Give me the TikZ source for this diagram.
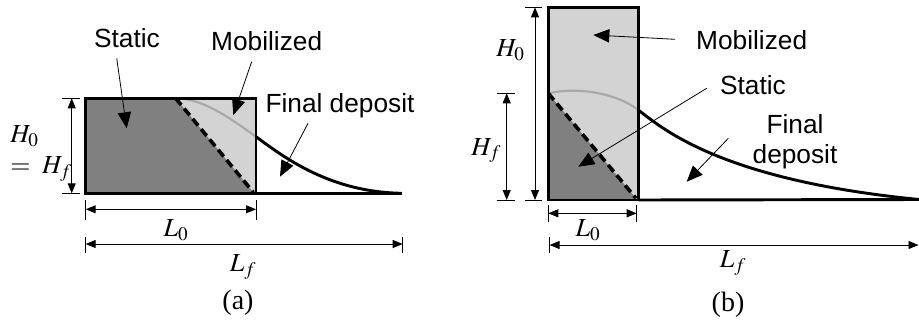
\documentclass[tikz,border=0pt]{standalone}
\usepackage{mathptmx}
\usepackage{fontspec}
\setmainfont{Liberation Serif}
\newfontfamily\lab{Liberation Sans}
\usetikzlibrary{arrows.meta}
\definecolor{lightg}{HTML}{D3D3D3}
\definecolor{darkg}{HTML}{808080}
\definecolor{curveg}{HTML}{A8A8A8}
\tikzset{
 lbl/.style={font=\lab\fontsize{19.7}{23}\selectfont, inner sep=0pt, align=center},
 mth/.style={font=\fontsize{19.5}{21}\selectfont, inner sep=0pt},
 captext/.style={font=\rmfamily\fontsize{21}{23}\selectfont, inner sep=0pt},
 outline/.style={line width=2.2pt},
 dimline/.style={line width=0.7pt, {Triangle[length=7.5pt,width=6pt]}-{Triangle[length=7.5pt,width=6pt]}},
 tickline/.style={line width=0.7pt},
 pointer/.style={line width=0.6pt, -{Triangle[length=12pt,width=10pt]}},
 slip/.style={line width=2.7pt, dash pattern=on 6.5pt off 3.5pt},
 gcurve/.style={curveg, line width=1.6pt},
 bcurve/.style={line width=2.2pt},
}
\begin{document}
\begin{tikzpicture}[x=0.75pt,y=-0.75pt]
\useasboundingbox (0,0) rectangle (919,322);
% ================= panel (a) =================
\coordinate (aTL) at (85.7,98.3);
\coordinate (aTR) at (256,98.3);
\coordinate (aBR) at (256,193.3);
\coordinate (aBL) at (85.7,193.3);
\coordinate (aS1) at (175.7,98.3);
\coordinate (aS2) at (253.3,192.3);
\coordinate (aJ) at (256,136.7);
\coordinate (aEnd) at (401.7,193.3);
\fill[lightg] (aTL) rectangle (aBR);
\fill[darkg] (aTL) -- (aS1) -- (aS2) -- (aBR) -- (aBL) -- cycle;
\draw[gcurve] (aS1) .. controls (205,98.3) and (235,122) .. (aJ);
\draw[slip] (aS1) -- (aS2);
\draw[outline] (aTL) rectangle (aBR);
\draw[bcurve] (aJ) .. controls (285,158) and (330,192) .. (aEnd);
\draw[bcurve] (aBR) -- (aEnd);
% vertical dimension
\coordinate (aHt) at (71.7,98.3);
\coordinate (aHb) at (71.7,193.3);
\draw[tickline] (61.7,98.3) -- (80,98.3);
\draw[tickline] (61.7,193.3) -- (80,193.3);
\draw[dimline] (aHt) -- (aHb);
\node[mth, anchor=base west] (aH0) at (10,142.7) {$H_0$};
\node[mth, anchor=base west] (aHf) at (10,173.3) {$=\;H_f$};
% L0
\coordinate (aL0l) at (85.7,209.3);
\coordinate (aL0r) at (256,209.3);
\draw[tickline] (85.7,200) -- (85.7,220);
\draw[tickline] (256,200) -- (256,220);
\draw[dimline] (aL0l) -- (aL0r);
\node[mth] (aL0) at (176,230) {$L_0$};
% Lf
\coordinate (aLfl) at (85.7,244);
\coordinate (aLfr) at (402.7,244);
\draw[tickline] (85.7,236.7) -- (85.7,253.3);
\draw[tickline] (402.7,236.7) -- (402.7,253.3);
\draw[dimline] (aLfl) -- (aLfr);
\node[mth] (aLf) at (243,267) {$L_f$};
\node[captext] (capa) at (238,303) {(a)};
% labels
\node[lbl] (aStatic) at (127,37.7) {Static};
\coordinate (aSt0) at (116.7,58.3);
\coordinate (aSt1) at (126.7,128.3);
\draw[pointer] (aSt0) -- (aSt1);
\node[lbl] (aMob) at (266.7,41) {Mobilized};
\coordinate (aMo0) at (251.7,61.7);
\coordinate (aMo1) at (233.3,115);
\draw[pointer] (aMo0) -- (aMo1);
\node[lbl] (aFin) at (340,106) {Final deposit};
\coordinate (aFi0) at (308,123.3);
\coordinate (aFi1) at (280,176.7);
\draw[pointer] (aFi0) -- (aFi1);
% ================= panel (b) =================
\coordinate (bTL) at (548.3,7.3);
\coordinate (bTR) at (638.3,7.3);
\coordinate (bBR) at (638.3,200);
\coordinate (bBL) at (548.3,200);
\coordinate (bS1) at (548.3,93.3);
\coordinate (bS2) at (636,198.3);
\coordinate (bJ) at (638.3,110);
\coordinate (bEnd) at (919,199.5);
\fill[lightg] (bTL) rectangle (bBR);
\fill[darkg] (bS1) -- (bS2) -- (bBR) -- (bBL) -- cycle;
\draw[gcurve] (bS1) .. controls (575,87) and (615,92) .. (bJ);
\draw[slip] (bS1) -- (bS2);
\draw[outline] (bTL) rectangle (bBR);
\draw[bcurve] (bJ) .. controls (662,128) and (720,180) .. (bEnd);
\draw[bcurve] (bBR) -- (bEnd);
% H0 dimension
\coordinate (bH0t) at (535,7.3);
\coordinate (bH0b) at (535,200);
\draw[tickline] (525,7.3) -- (541.7,7.3);
\draw[tickline] (525,200) -- (541.7,200);
\draw[dimline] (bH0t) -- (bH0b);
\node[mth, anchor=base west] (bH0) at (496,56.7) {$H_0$};
% Hf dimension
\coordinate (bHft) at (506.7,93.3);
\coordinate (bHfb) at (506.7,200);
\draw[tickline] (496.7,93.3) -- (515,93.3);
\draw[tickline] (496.7,200) -- (515,200);
\draw[dimline] (bHft) -- (bHfb);
\node[mth, anchor=base west] (bHf) at (471,155) {$H_f$};
% L0
\coordinate (bL0l) at (548.3,213.3);
\coordinate (bL0r) at (636.7,213.3);
\draw[tickline] (548.3,205) -- (548.3,221.7);
\draw[tickline] (636.7,205) -- (636.7,221.7);
\draw[dimline] (bL0l) -- (bL0r);
\node[mth] (bL0) at (588,230) {$L_0$};
% Lf
\coordinate (bLfl) at (549.6,245);
\coordinate (bLfr) at (918.5,245);
\draw[tickline] (549.6,236.7) -- (549.6,253.3);
\draw[dimline] (bLfl) -- (bLfr);
\node[mth] (bLf) at (733,263) {$L_f$};
\node[captext] (capb) at (728,305) {(b)};
% labels
\node[lbl] (bMob) at (751.7,40) {Mobilized};
\coordinate (bMo0) at (675,39.3);
\coordinate (bMo1) at (593.3,35);
\draw[pointer] (bMo0) -- (bMo1);
\node[lbl] (bStatic) at (753,85) {Static};
\coordinate (bSt0) at (706.7,88.3);
\coordinate (bSt1) at (578.3,166.7);
\draw[pointer] (bSt0) -- (bSt1);
\node[lbl] (bFin) at (795,141.7) {Final\\deposit};
\coordinate (bFi0) at (728.3,138.3);
\coordinate (bFi1) at (686.7,181.7);
\draw[pointer] (bFi0) -- (bFi1);
\end{tikzpicture}
\end{document}
